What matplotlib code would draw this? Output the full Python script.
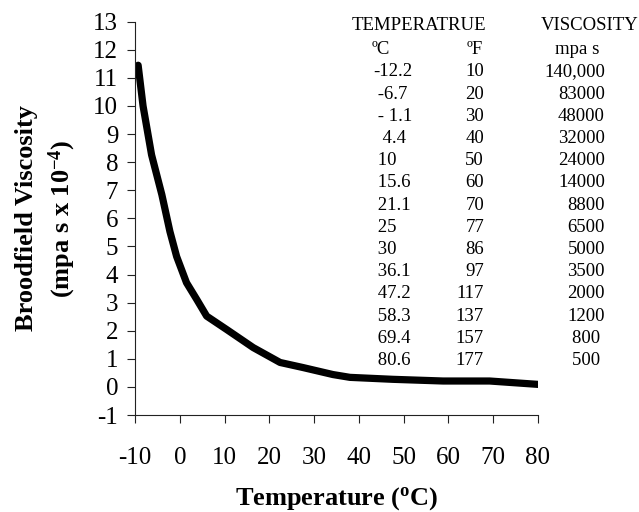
import matplotlib
matplotlib.use("Agg")
import matplotlib.pyplot as plt

# Curve (temperature in deg C, viscosity in mpa s x 10^-4)
curve_temp = [-9.3, -8.2, -6.3, -4.0, -2.2, -0.7, 1.5, 3.8, 6.0, 10.5, 16.4,
              22.4, 27.5, 34.2, 38.0, 47.6, 58.8, 69.2, 80.0]
curve_visc = [11.45, 10.0, 8.26, 6.84, 5.53, 4.64, 3.71, 3.11, 2.52, 2.04, 1.40,
              0.87, 0.69, 0.44, 0.34, 0.27, 0.21, 0.21, 0.09]

x_ticks = [-10, 0, 10, 20, 30, 40, 50, 60, 70, 80]
y_ticks = list(range(-1, 14))

# Table text
table_c = ["-12.2", " -6.7", " - 1.1", "  4.4", " 10", " 15.6", " 21.1", " 25",
           " 30", " 36.1", " 47.2", " 58.3", " 69.4", " 80.6"]
table_f = ["10", "20", "30", "40", "50", "60", "70", "77", "86", "97",
           "117", "137", "157", "177"]
table_v = ["140,000", "83000", "48000", "32000", "24000", "14000", "8800",
           "6500", "5000", "3500", "2000", "1200", "800 ", "500 "]

plt.rcParams['font.family'] = ['Liberation Serif', 'DejaVu Serif']
plt.rcParams['axes.unicode_minus'] = False
plt.rcParams['mathtext.fontset'] = 'custom'
plt.rcParams['mathtext.rm'] = 'Liberation Serif'
plt.rcParams['mathtext.bf'] = 'Liberation Serif:bold'
plt.rcParams['mathtext.it'] = 'Liberation Serif:italic'

W, H = 639, 512
fig = plt.figure(figsize=(W / 100, H / 100), dpi=100)
ax = fig.add_axes([135 / W, 1 - 415 / H, 403 / W, (415 - 21.7) / H])

ax.plot(curve_temp, curve_visc, color='black', lw=5.2,
        solid_capstyle='round', solid_joinstyle='round')

ax.set_xlim(-10, 80)
ax.set_ylim(-1, 13)
ax.set_xticks(x_ticks)
ax.set_yticks(y_ticks)
ax.spines['top'].set_visible(False)
ax.spines['right'].set_visible(False)
for s in ('left', 'bottom'):
    ax.spines[s].set_linewidth(0.8)
    ax.spines[s].set_color('#222222')
ax.tick_params(axis='x', direction='out', length=6, width=0.8, pad=17,
               labelsize=18, color='#222222')
ax.tick_params(axis='y', direction='out', length=6, width=0.8, pad=6,
               labelsize=18, color='#222222')

ax.set_xlabel('Temperature ($^{\\mathbf{o}}$C)', fontsize=19, fontweight='bold',
              labelpad=12)
ax.set_ylabel('Broodfield Viscosity\n(mpa s x 10$^{\\mathbf{-4}}$)', fontsize=19,
              fontweight='bold', labelpad=11, linespacing=1.38)


def px(x, y):
    return x / W, 1 - y / H


fs = 13.5
fig.text(*px(419, 30), "TEMPERATRUE", ha='center', va='baseline', fontsize=fs)
fig.text(*px(590, 30), "VISCOSITY", ha='center', va='baseline', fontsize=fs)
fig.text(*px(381, 54), "\u00baC", ha='center', va='baseline', fontsize=fs)
fig.text(*px(475, 54), "\u00baF", ha='center', va='baseline', fontsize=fs)
fig.text(*px(577, 54), "mpa s", ha='center', va='baseline', fontsize=fs)

y0, dy = 76.4, 22.2
for i, (c, f, v) in enumerate(zip(table_c, table_f, table_v)):
    yb = y0 + i * dy
    fig.text(*px(373, yb), c, ha='left', va='baseline', fontsize=fs)
    fig.text(*px(484, yb), f, ha='right', va='baseline', fontsize=fs)
    fig.text(*px(605, yb), v, ha='right', va='baseline', fontsize=fs)

fig.savefig('out.png', dpi=100)
